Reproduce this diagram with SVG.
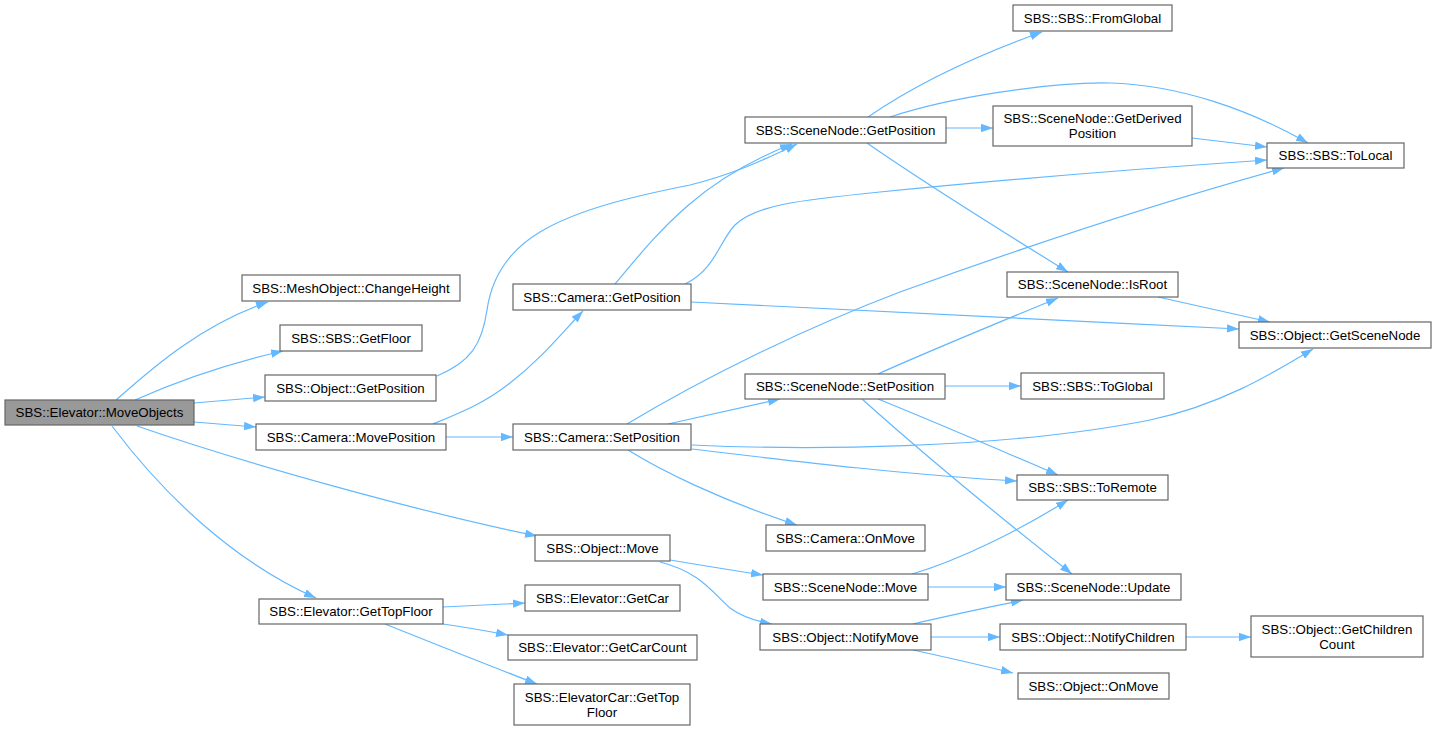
<svg xmlns="http://www.w3.org/2000/svg" width="1437" height="731" viewBox="0 0 1437 731">
<defs>
<marker id="ah" markerUnits="userSpaceOnUse" viewBox="0 0 10 7" refX="10" refY="3.5" markerWidth="12" markerHeight="8.5" orient="auto">
<path d="M0,0 L10,3.5 L0,7 z" fill="#63b8ff"/>
</marker>
<style>
.n rect{fill:#fff;stroke:#666;stroke-width:1.2}
.n.root rect{fill:#999}
.n text{font-family:"Liberation Sans",Arial,sans-serif;font-size:13.3px;fill:#000;text-anchor:middle}
.e path{fill:none;stroke:#63b8ff;stroke-width:1.2;marker-end:url(#ah)}
</style>
</defs>
<rect width="1437" height="731" fill="#fff"/>
<g id="edges" class="e">
<path d="M116,400 C150,370 200,325 268,302"/>
<path d="M135,400 C180,380 235,362 283,351"/>
<path d="M194,403 L265,397"/>
<path d="M194,422 L256,427"/>
<path d="M137,426 C250,465 420,512 537,536"/>
<path d="M112,426 C160,490 230,560 316,598"/>
<path d="M437,376 C470,362 482,345 487,310 C492,275 510,250 540,232 C580,208 640,195 690,185 C730,175 760,162 797,144"/>
<path d="M433,424 C460,413 485,403 510,383 C540,360 560,335 583,311"/>
<path d="M446,437 L513,437"/>
<path d="M615,284 C660,230 700,180 792,144"/>
<path d="M685,284 C715,270 720,240 735,225 C755,205 800,200 880,192 C1000,180 1150,168 1267,160"/>
<path d="M691,302 C850,310 1050,320 1239,329"/>
<path d="M627,424 C700,380 800,330 900,292 C1030,245 1150,205 1284,168"/>
<path d="M668,424 C700,417 740,408 780,399"/>
<path d="M692,445 C800,450 1000,450 1150,420 C1220,405 1270,375 1313,349"/>
<path d="M692,449 C800,462 920,476 1017,481"/>
<path d="M628,450 C660,470 720,500 797,525"/>
<path d="M868,117 C900,95 950,65 1042,32"/>
<path d="M890,117 C950,97 1050,82 1110,83 C1180,85 1250,110 1308,143"/>
<path d="M946,128 L993,128"/>
<path d="M867,143 C920,180 1000,230 1068,272"/>
<path d="M1192,138 L1267,147"/>
<path d="M1158,297 C1190,304 1230,313 1270,322"/>
<path d="M878,374 C920,355 990,326 1058,298"/>
<path d="M945,386 L1021,386"/>
<path d="M878,399 C930,420 1000,450 1058,475"/>
<path d="M862,399 C930,460 1010,525 1072,574"/>
<path d="M670,560 C700,565 730,570 763,575"/>
<path d="M660,562 C700,572 712,592 730,608 C742,617 755,621 772,624"/>
<path d="M912,574 C960,560 1020,530 1068,500"/>
<path d="M928,587 L1006,587"/>
<path d="M913,624 C950,615 990,607 1023,600"/>
<path d="M931,637 L1000,637"/>
<path d="M913,650 C945,657 980,665 1013,673"/>
<path d="M1186,637 L1251,637"/>
<path d="M443,607 L525,603"/>
<path d="M443,624 C465,627 487,631 508,635"/>
<path d="M385,624 C430,642 490,666 537,684"/>
</g>
<g id="n-moveobjects" class="n root"><rect x="5" y="400" width="189" height="25"/><text x="99.5" y="417">SBS::Elevator::MoveObjects</text></g>
<g id="n-changeheight" class="n"><rect x="242" y="275" width="218" height="26"/><text x="351" y="292.5">SBS::MeshObject::ChangeHeight</text></g>
<g id="n-getfloor" class="n"><rect x="280" y="325" width="142" height="26"/><text x="351" y="342.5">SBS::SBS::GetFloor</text></g>
<g id="n-objgetposition" class="n"><rect x="265" y="375" width="171" height="26"/><text x="350.5" y="392.5">SBS::Object::GetPosition</text></g>
<g id="n-moveposition" class="n"><rect x="256" y="424" width="190" height="26"/><text x="351" y="441.5">SBS::Camera::MovePosition</text></g>
<g id="n-objmove" class="n"><rect x="535" y="535" width="135" height="26"/><text x="602.5" y="552.5">SBS::Object::Move</text></g>
<g id="n-gettopfloor" class="n"><rect x="259" y="599" width="184" height="25"/><text x="351" y="616">SBS::Elevator::GetTopFloor</text></g>
<g id="n-getcar" class="n"><rect x="525" y="585" width="155" height="26"/><text x="602.5" y="602.5">SBS::Elevator::GetCar</text></g>
<g id="n-getcarcount" class="n"><rect x="508" y="635" width="189" height="25"/><text x="602.5" y="652">SBS::Elevator::GetCarCount</text></g>
<g id="n-cargettopfloor" class="n"><rect x="514" y="684" width="176" height="41"/><text x="602" y="702">SBS::ElevatorCar::GetTop</text><text x="602" y="717">Floor</text></g>
<g id="n-camgetposition" class="n"><rect x="513" y="284" width="178" height="26"/><text x="602" y="301.5">SBS::Camera::GetPosition</text></g>
<g id="n-camsetposition" class="n"><rect x="513" y="424" width="178" height="26"/><text x="602" y="441.5">SBS::Camera::SetPosition</text></g>
<g id="n-snGetPosition" class="n"><rect x="745" y="117" width="201" height="26"/><text x="845.5" y="134.5">SBS::SceneNode::GetPosition</text></g>
<g id="n-snSetPosition" class="n"><rect x="745" y="374" width="200" height="25"/><text x="845" y="391">SBS::SceneNode::SetPosition</text></g>
<g id="n-camonmove" class="n"><rect x="766" y="525" width="159" height="26"/><text x="845.5" y="542.5">SBS::Camera::OnMove</text></g>
<g id="n-snmove" class="n"><rect x="763" y="574" width="165" height="26"/><text x="845.5" y="591.5">SBS::SceneNode::Move</text></g>
<g id="n-notifymove" class="n"><rect x="760" y="624" width="171" height="26"/><text x="845.5" y="641.5">SBS::Object::NotifyMove</text></g>
<g id="n-fromglobal" class="n"><rect x="1013" y="5" width="159" height="26"/><text x="1092.5" y="22.5">SBS::SBS::FromGlobal</text></g>
<g id="n-getderived" class="n"><rect x="993" y="106" width="199" height="40"/><text x="1092.5" y="123">SBS::SceneNode::GetDerived</text><text x="1092.5" y="138">Position</text></g>
<g id="n-tolocal" class="n"><rect x="1267" y="143" width="137" height="25"/><text x="1335.5" y="160">SBS::SBS::ToLocal</text></g>
<g id="n-isroot" class="n"><rect x="1007" y="272" width="171" height="25"/><text x="1092.5" y="289">SBS::SceneNode::IsRoot</text></g>
<g id="n-getscenenode" class="n"><rect x="1239" y="322" width="192" height="26"/><text x="1335" y="339.5">SBS::Object::GetSceneNode</text></g>
<g id="n-toglobal" class="n"><rect x="1021" y="373" width="143" height="26"/><text x="1092.5" y="390.5">SBS::SBS::ToGlobal</text></g>
<g id="n-toremote" class="n"><rect x="1017" y="475" width="151" height="25"/><text x="1092.5" y="492">SBS::SBS::ToRemote</text></g>
<g id="n-update" class="n"><rect x="1006" y="574" width="175" height="26"/><text x="1093.5" y="591.5">SBS::SceneNode::Update</text></g>
<g id="n-notifychildren" class="n"><rect x="1000" y="624" width="186" height="26"/><text x="1093" y="641.5">SBS::Object::NotifyChildren</text></g>
<g id="n-getchildrencount" class="n"><rect x="1251" y="616" width="172" height="41"/><text x="1337" y="634">SBS::Object::GetChildren</text><text x="1337" y="649">Count</text></g>
<g id="n-objonmove" class="n"><rect x="1018" y="673" width="151" height="26"/><text x="1093.5" y="690.5">SBS::Object::OnMove</text></g>
</svg>
